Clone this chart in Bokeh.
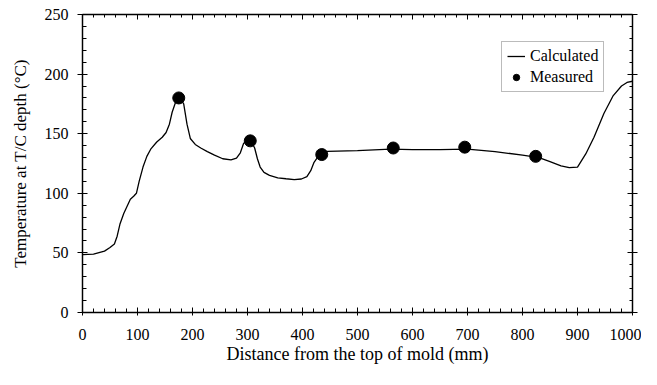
from bokeh.plotting import figure
from bokeh.models import LinearAxis, SingleIntervalTicker, Range1d
from bokeh.embed import file_html
from bokeh.resources import INLINE

# Calculated temperature profile (distance mm, temperature C)
calc_x = [0, 20, 40, 50, 58, 63, 68, 75, 87, 93, 98, 103, 110, 117, 124, 135, 145, 152,
          158, 163, 170, 177, 184, 190, 196, 205, 215, 227, 240, 255, 270, 280, 287, 293,
          300, 307, 313, 318, 323, 330, 340, 355, 370, 385, 398, 408, 415, 421, 428, 435,
          445, 500, 560, 600, 650, 700, 750, 800, 830, 850, 870, 885, 900, 915, 930, 948,
          965, 980, 990, 1000]
calc_y = [48.5, 49, 51.5, 54.5, 57.5, 64, 74, 83, 95, 97.5, 100, 110, 122, 131, 137, 143,
          147, 151, 158, 168, 177.5, 180, 175, 158, 146, 141, 138, 135, 132, 129, 128, 129.5,
          134, 142, 144, 143.5, 138, 129, 122, 117.5, 115, 113, 112.2, 111.5, 112, 114,
          119, 126, 130.5, 133, 135.2, 135.8, 137, 136.6, 136.6, 137, 135, 132, 130, 126.5,
          123, 121.5, 122, 133, 147, 167, 182, 190, 193, 194]

# Measured points
meas_x = [175, 305, 435, 565, 695, 824]
meas_y = [180, 144, 132.5, 138, 138.7, 131]

x_ticks = [0, 100, 200, 300, 400, 500, 600, 700, 800, 900, 1000]
y_ticks = [0, 50, 100, 150, 200, 250]

FONT = "Liberation Serif"

p = figure(width=641, height=369, output_backend="svg", toolbar_location=None,
           x_range=Range1d(0, 1000), y_range=Range1d(0, 250),
           min_border_left=82, min_border_right=9, min_border_top=14, min_border_bottom=57,
           background_fill_color="white", border_fill_color="white")
p.grid.visible = False
p.outline_line_color = "black"
p.outline_line_width = 1.2

p.line(calc_x, calc_y, line_color="black", line_width=1.3, legend_label="Calculated")
p.scatter(meas_x, meas_y, size=12, marker="circle", fill_color="black", line_color="black",
          legend_label="Measured")

xa = p.xaxis[0]
xa.ticker = SingleIntervalTicker(interval=100, num_minor_ticks=5)
xa.axis_label = "Distance from the top of mold (mm)"
ya = p.yaxis[0]
ya.ticker = SingleIntervalTicker(interval=50, num_minor_ticks=5)
ya.axis_label = "Temperature at T/C depth (°C)"

for ax in (xa, ya):
    ax.axis_line_color = "black"
    ax.axis_line_width = 1.3
    ax.major_tick_line_color = "black"
    ax.minor_tick_line_color = "black"
    ax.major_label_text_font = FONT
    ax.major_label_text_font_size = "16px"
    ax.major_label_text_color = "black"
    ax.axis_label_text_font = FONT
    ax.axis_label_text_font_style = "normal"
    ax.axis_label_text_color = "black"
xa.axis_label_text_font_size = "18px"
ya.axis_label_text_font_size = "17px"

xa.major_tick_in = 5
xa.major_tick_out = 3
xa.minor_tick_in = 4
xa.minor_tick_out = 0
xa.major_label_standoff = 13
xa.axis_label_standoff = 1

ya.major_tick_in = 5
ya.major_tick_out = 5
ya.minor_tick_in = 4
ya.minor_tick_out = 0
ya.major_label_standoff = 9
ya.axis_label_standoff = 12

top = LinearAxis(ticker=SingleIntervalTicker(interval=100, num_minor_ticks=5))
top.major_label_overrides = {t: "" for t in x_ticks}
right = LinearAxis(ticker=SingleIntervalTicker(interval=50, num_minor_ticks=5))
right.major_label_overrides = {t: "" for t in y_ticks}
for ax in (top, right):
    ax.axis_line_color = "black"
    ax.axis_line_width = 1.3
    ax.major_tick_line_color = "black"
    ax.minor_tick_line_color = "black"
    ax.major_tick_in = 5
    ax.major_tick_out = 0
    ax.minor_tick_in = 3
    ax.minor_tick_out = 0
    ax.major_label_text_font_size = "1px"
    ax.major_label_standoff = 0
right.major_tick_out = 5
p.add_layout(top, "above")
p.add_layout(right, "right")

lg = p.legend[0]
lg.location = (419, 220)
lg.label_text_font = FONT
lg.label_text_font_size = "16px"
lg.label_text_color = "black"
lg.border_line_color = "#777777"
lg.border_line_width = 1
lg.background_fill_alpha = 1
lg.padding = 5
lg.spacing = 3
lg.glyph_width = 18
lg.label_standoff = 5
lg.label_height = 16
lg.glyph_height = 16
lg.margin = 0

open("out.html", "w").write(file_html(p, INLINE))
